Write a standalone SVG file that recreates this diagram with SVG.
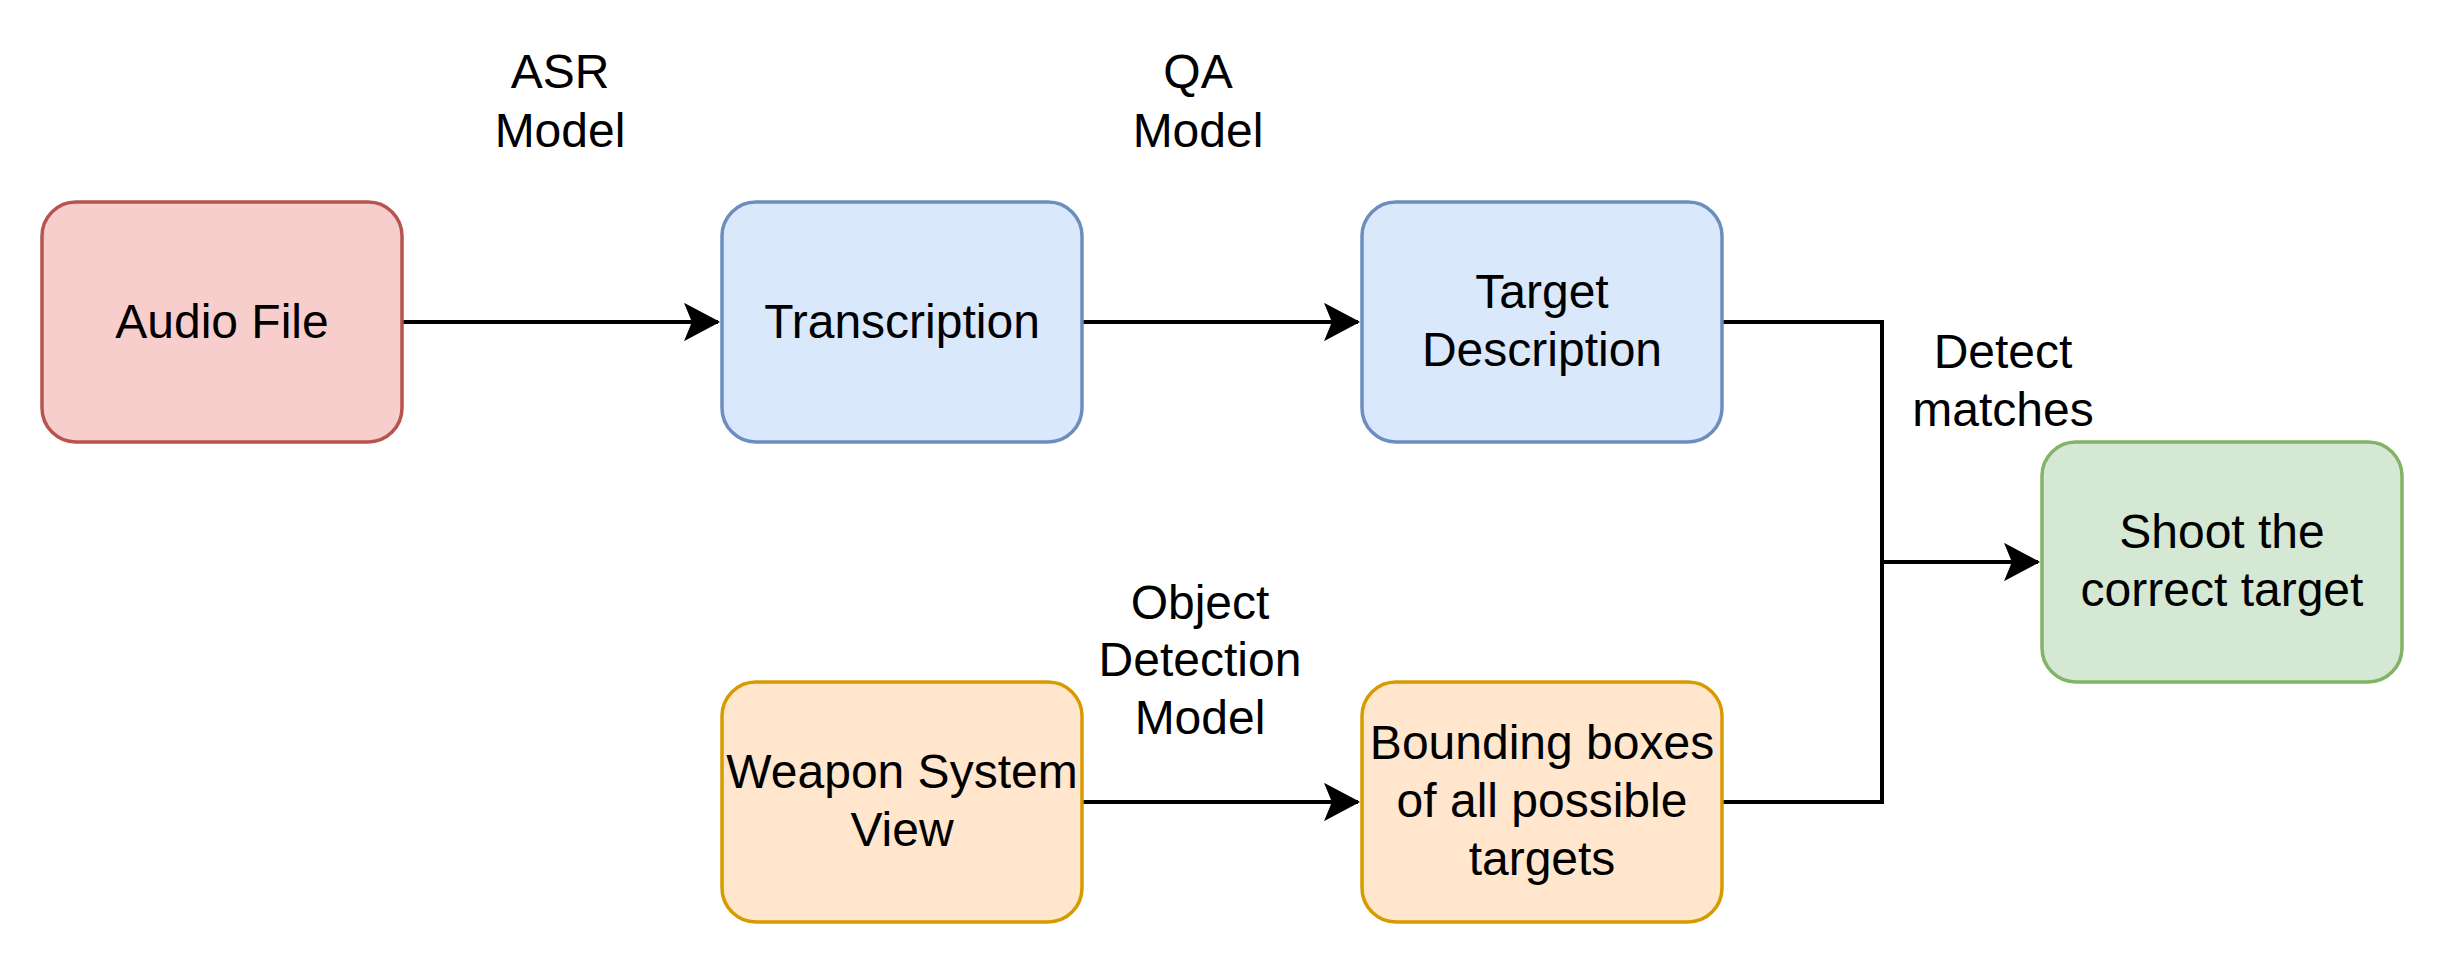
<svg xmlns="http://www.w3.org/2000/svg" width="2448" height="964" viewBox="0 0 2448 964">
<defs>
<style>
.t{font-family:"Liberation Sans",Arial,Helvetica,sans-serif;font-size:48px;fill:#000;text-anchor:middle}
.box{stroke-width:3.5}
.red{fill:#f8cecc;stroke:#b85450}
.blue{fill:#dae8fc;stroke:#6c8ebf}
.orange{fill:#ffe6cc;stroke:#d79b00}
.green{fill:#d5e8d4;stroke:#82b366}
.edge{fill:none;stroke:#000;stroke-width:4}
</style>
<marker id="arrow" markerUnits="userSpaceOnUse" viewBox="0 0 36 38" refX="34" refY="19" markerWidth="36" markerHeight="38" orient="auto">
<path d="M34,19 L2,2 L9,19 L2,36 Z" fill="#000" stroke="#000" stroke-width="2"/>
</marker>
</defs>
<rect width="2448" height="964" fill="#fff"/>
<g id="connectors">
<path class="edge" d="M402,322 L718,322" marker-end="url(#arrow)"/>
<path class="edge" d="M1082,322 L1358,322" marker-end="url(#arrow)"/>
<path class="edge" d="M1082,802 L1358,802" marker-end="url(#arrow)"/>
<path class="edge" d="M1722,322 L1882,322 L1882,562 L2038,562" marker-end="url(#arrow)"/>
<path class="edge" d="M1722,802 L1882,802 L1882,562"/>
</g>
<g id="label-asr">
<text class="t" x="560" y="88">ASR</text>
<text class="t" x="560" y="147">Model</text>
</g>
<g id="label-qa">
<text class="t" x="1198" y="88">QA</text>
<text class="t" x="1198" y="147">Model</text>
</g>
<g id="label-od">
<text class="t" x="1200" y="619">Object</text>
<text class="t" x="1200" y="676">Detection</text>
<text class="t" x="1200" y="734">Model</text>
</g>
<g id="label-detect">
<text class="t" x="2003" y="368">Detect</text>
<text class="t" x="2003" y="426">matches</text>
</g>
<g id="audio-file">
<rect class="box red" x="42" y="202" width="360" height="240" rx="34" ry="34"/>
<text class="t" x="222" y="338">Audio File</text>
</g>
<g id="transcription">
<rect class="box blue" x="722" y="202" width="360" height="240" rx="34" ry="34"/>
<text class="t" x="902" y="338">Transcription</text>
</g>
<g id="target-description">
<rect class="box blue" x="1362" y="202" width="360" height="240" rx="34" ry="34"/>
<text class="t" x="1542" y="308">Target</text>
<text class="t" x="1542" y="366">Description</text>
</g>
<g id="weapon-system-view">
<rect class="box orange" x="722" y="682" width="360" height="240" rx="34" ry="34"/>
<text class="t" x="902" y="788">Weapon System</text>
<text class="t" x="902" y="846">View</text>
</g>
<g id="bounding-boxes">
<rect class="box orange" x="1362" y="682" width="360" height="240" rx="34" ry="34"/>
<text class="t" x="1542" y="759">Bounding boxes</text>
<text class="t" x="1542" y="817">of all possible</text>
<text class="t" x="1542" y="875">targets</text>
</g>
<g id="shoot-target">
<rect class="box green" x="2042" y="442" width="360" height="240" rx="34" ry="34"/>
<text class="t" x="2222" y="548">Shoot the</text>
<text class="t" x="2222" y="606">correct target</text>
</g>
</svg>
